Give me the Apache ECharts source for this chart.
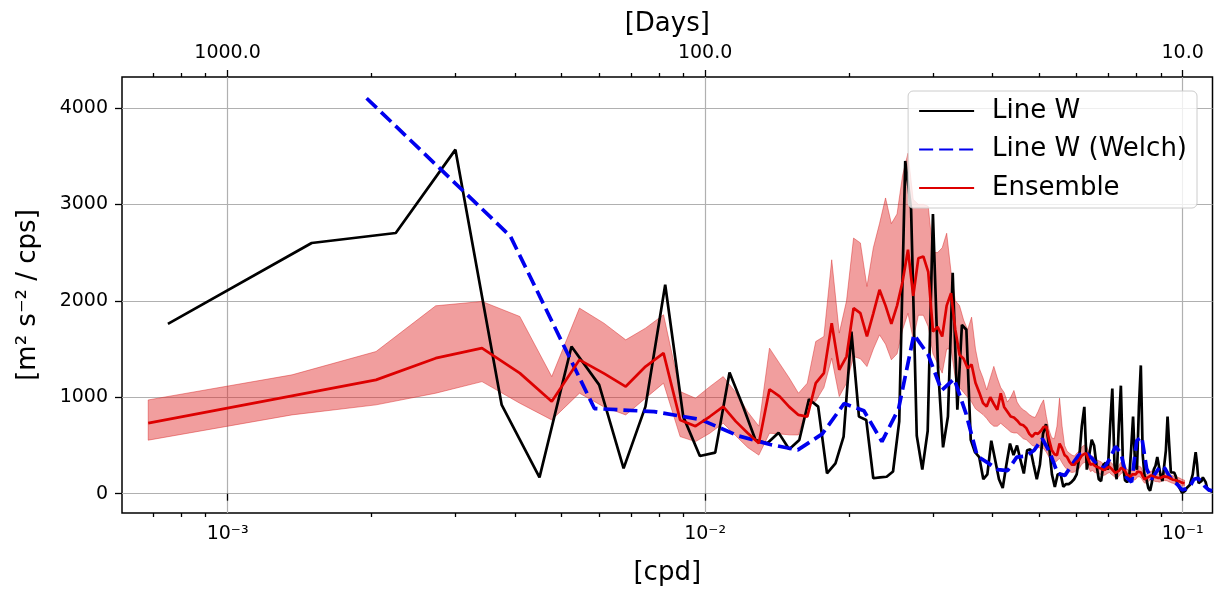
<!DOCTYPE html>
<html>
<head>
<meta charset="utf-8">
<script src="https://cdn.jsdelivr.net/npm/echarts@6.0.0/dist/echarts.min.js"></script>
<style>
  html, body { margin: 0; padding: 0; background: #fff; }
  #chart { width: 1217px; height: 592px; }
</style>
</head>
<body>
<div id="chart"></div>
<script>
// frequency resolution of each spectrum [cpd]
const lineWStep = 0.00075;
const welchStep = 0.001955;
const ensStep = 0.000682;

// Line W periodogram [m2 s-2 / cps]
const lineW = [
  1761, 2599, 2703, 3567, 920, 170, 1526, 1128, 263, 903,
  2166, 799, 391, 426, 1256, 910, 557, 523, 633, 460,
  557, 980, 903, 211, 315, 592, 1681, 799, 765, 160,
  170, 176, 230, 750, 3450, 2950, 600, 250, 650, 2900,
  1300, 480, 800, 2290, 870, 1750, 1700, 560, 430, 380,
  150, 200, 550, 350, 150, 60, 300, 520, 400, 500,
  350, 210, 450, 460, 300, 150, 300, 620, 720, 500,
  200, 70, 200, 210, 73, 100, 100, 120, 150, 200,
  380, 700, 900, 250, 400, 560, 500, 300, 150, 130,
  300, 320, 250, 700, 1090, 300, 150, 700, 1120, 300,
  140, 120, 150, 450, 800, 300, 250, 900, 1330, 400,
  180, 150, 60, 30, 120, 250, 290, 380, 400, 180,
  130, 150, 450, 800, 500, 220, 200, 220, 180, 100,
  70, 40, 10, 5, 30, 60, 80, 90, 110, 200,
  320, 430, 300, 110, 100, 130, 170, 170, 120, 60,
  40, 30, 25, 20
];

// Line W, Welch estimate
const lineWWelch = [
  4100, 2670, 883, 851, 770, 600, 510, 454, 620, 935,
  860, 540, 880, 1650, 1440, 1070, 1190, 830, 390, 320,
  250, 240, 380, 390, 450, 570, 420, 210, 190, 300,
  400, 430, 370, 290, 265, 360, 490, 420, 170, 120,
  550, 590, 260, 150, 220, 290, 260, 180, 130, 90,
  40, 50, 73, 150, 160, 130, 73, 40, 30
];

// Ensemble mean and its spread
const ensMean = [
  731, 1014, 1180, 1405, 1509, 1250, 955, 1388, 1247, 1111,
  1318, 1457, 765, 700, 800, 903, 750, 630, 523, 1083,
  1010, 900, 817, 799, 1146, 1250, 1768, 1284, 1422, 1924,
  1872, 1630, 1870, 2114, 1950, 1760, 1950, 2200, 2529, 2050,
  2440, 2460, 2300, 1680, 1730, 1630, 1950, 2080, 1700, 1440,
  1400, 1300, 1340, 1150, 1050, 940, 903, 1000, 930, 870,
  1040, 900, 850, 800, 790, 760, 720, 710, 680, 620,
  590, 630, 620, 650, 690, 695, 560, 454, 410, 400,
  520, 470, 400, 380, 330, 300, 300, 330, 350, 390,
  410, 420, 360, 300, 310, 290, 280, 270, 260, 246,
  250, 270, 280, 260, 240, 215, 212, 240, 270, 280,
  240, 200, 190, 176, 200, 190, 200, 230, 230, 220,
  180, 150, 150, 170, 180, 190, 190, 175, 170, 165,
  160, 165, 175, 180, 175, 175, 165, 160, 150, 145,
  140, 140, 135, 130, 125, 115, 110, 108
];
const ensUpper = [
  972, 1232, 1474, 1948, 1993, 1837, 1214, 1924, 1768, 1595,
  1716, 1855, 1059, 990, 1110, 1214, 1050, 850, 700, 1509,
  1350, 1200, 1042, 1146, 1578, 1630, 2425, 1665, 2000, 2650,
  2600, 2148, 2550, 2800, 3066, 2800, 2900, 3300, 3530, 3050,
  3000, 3000, 2980, 2500, 2500, 2550, 2700, 2300, 2000, 1950,
  1800, 1700, 1830, 1500, 1300, 1200, 1076, 1200, 1320, 1200,
  1100, 1050, 950, 1000, 1070, 950, 900, 870, 850, 820,
  800, 790, 850, 920, 973, 800, 661, 580, 570, 700,
  990, 700, 500, 440, 419, 400, 390, 420, 440, 480,
  500, 510, 450, 380, 390, 370, 350, 340, 330, 310,
  310, 330, 340, 320, 300, 270, 265, 300, 330, 340,
  300, 255, 245, 225, 250, 240, 250, 285, 285, 275,
  230, 195, 195, 215, 225, 235, 235, 220, 215, 205,
  200, 205, 215, 220, 215, 215, 205, 200, 190, 185,
  180, 178, 172, 165, 160, 150, 145, 140
];
const ensLower = [
  555, 817, 921, 1042, 1162, 938, 765, 1042, 900, 817,
  990, 1146, 592, 540, 627, 731, 600, 480, 400, 627,
  620, 610, 609, 900, 960, 1100, 1405, 1007, 1146, 1422,
  1400, 1318, 1500, 1647, 1550, 1388, 1450, 1700, 1870, 1600,
  1850, 1850, 1733, 1450, 1350, 1250, 1500, 1500, 1200, 1100,
  1050, 1000, 950, 880, 850, 820, 780, 730, 700, 700,
  730, 700, 670, 640, 630, 630, 600, 570, 560, 530,
  500, 490, 480, 470, 470, 430, 380, 330, 320, 340,
  367, 320, 280, 250, 228, 220, 225, 245, 260, 300,
  320, 330, 280, 230, 240, 220, 215, 205, 200, 190,
  195, 210, 220, 200, 185, 165, 160, 185, 210, 220,
  185, 150, 140, 130, 150, 140, 150, 175, 175, 165,
  135, 110, 110, 125, 135, 145, 145, 130, 125, 125,
  120, 125, 135, 140, 135, 135, 125, 120, 112, 108,
  103, 103, 100, 96, 92, 84, 80, 78
];

// axis ticks
const xMin = 0.000601;
const xMax = 0.1155;
const majorTicks = [0.001, 0.01, 0.1];
const minorTicks = [
  0.0007, 0.0008, 0.0009,
  0.002, 0.003, 0.004, 0.005, 0.006, 0.007, 0.008, 0.009,
  0.02, 0.03, 0.04, 0.05, 0.06, 0.07, 0.08, 0.09
];
const yTicks = [0, 1000, 2000, 3000, 4000];

const FONT = 'DejaVu Sans';

function pairs(values, step) {
  return values.map((v, i) => [(i + 1) * step, v]);
}

function supNum(n) {
  const map = { '-': '\u207b', '0': '\u2070', '1': '\u00b9', '2': '\u00b2', '3': '\u00b3',
    '4': '\u2074', '5': '\u2075', '6': '\u2076', '7': '\u2077', '8': '\u2078', '9': '\u2079' };
  return String(n).split('').map(c => map[c]).join('');
}

function xAxisDef(position, ticks, major, extra) {
  return Object.assign({
    type: 'log',
    position: position,
    min: xMin,
    max: xMax,
    axisLine: { show: false },
    axisTick: {
      show: true,
      customValues: ticks,
      length: major ? 7 : 4,
      lineStyle: { color: '#000', width: 1.3 }
    },
    axisLabel: { show: false },
    splitLine: { show: false },
    minorTick: { show: false },
    minorSplitLine: { show: false }
  }, extra || {});
}

const chart = echarts.init(document.getElementById('chart'));

const bandEdge = 'rgba(215, 35, 35, 0.45)';
const bandFill = 'rgba(225, 40, 40, 0.45)';

// spread band drawn as one polygon: upper edge forward, lower edge back
function renderBand(params, api) {
  if (params.dataIndex !== 0) return;
  const pts = [];
  for (let i = 0; i < ensUpper.length; i++) {
    pts.push(api.coord([(i + 1) * ensStep, ensUpper[i]]));
  }
  for (let i = ensLower.length - 1; i >= 0; i--) {
    pts.push(api.coord([(i + 1) * ensStep, ensLower[i]]));
  }
  return {
    type: 'polygon',
    shape: { points: pts },
    style: { fill: bandFill, stroke: bandEdge, lineWidth: 1 }
  };
}

const option = {
  animation: false,
  backgroundColor: '#fff',
  grid: {
    left: 122,
    right: 4.5,
    top: 77,
    bottom: 79,
    show: true,
    borderColor: '#000',
    borderWidth: 1.5,
    backgroundColor: 'transparent',
    outerBoundsMode: 'none'
  },
  legend: {
    data: ['Line W', 'Line W (Welch)', 'Ensemble'],
    orient: 'vertical',
    right: 20,
    top: 91,
    itemWidth: 55,
    itemHeight: 14,
    itemGap: 10.5,
    padding: [6, 10, 6, 10],
    backgroundColor: 'rgba(255,255,255,0.8)',
    borderColor: '#cccccc',
    borderWidth: 1,
    borderRadius: 5,
    itemStyle: { opacity: 0 },
    textStyle: {
      fontFamily: FONT,
      fontSize: 26,
      color: '#000',
      lineHeight: 28,
      padding: [0, 0, 0, 13]
    }
  },
  xAxis: [
    xAxisDef('bottom', majorTicks, true, {
      axisLabel: {
        show: true,
        customValues: majorTicks,
        fontFamily: FONT,
        fontSize: 19,
        color: '#000',
        margin: 12,
        formatter: v => '10' + supNum(Math.round(Math.log10(v)))
      },
      splitLine: { show: true, lineStyle: { color: '#b0b0b0', width: 1.2 } },
      name: '[cpd]',
      nameLocation: 'middle',
      nameGap: 47,
      nameTextStyle: { fontFamily: FONT, fontSize: 26, color: '#000' }
    }),
    xAxisDef('bottom', minorTicks, false),
    xAxisDef('top', majorTicks, true, {
      axisLabel: {
        show: true,
        customValues: majorTicks,
        fontFamily: FONT,
        fontSize: 19,
        color: '#000',
        margin: 14,
        formatter: v => (1 / v).toFixed(1)
      },
      name: '[Days]',
      nameLocation: 'middle',
      nameGap: 40,
      nameTextStyle: { fontFamily: FONT, fontSize: 26, color: '#000' }
    }),
    xAxisDef('top', minorTicks, false)
  ],
  yAxis: {
    type: 'value',
    min: -200,
    max: 4320,
    axisLine: { show: false },
    axisTick: {
      show: true,
      customValues: yTicks,
      length: 7,
      lineStyle: { color: '#000', width: 1.3 }
    },
    axisLabel: {
      customValues: yTicks,
      fontFamily: FONT,
      fontSize: 19,
      color: '#000',
      margin: 14,
      formatter: v => String(v)
    },
    splitLine: { show: true, lineStyle: { color: '#b0b0b0', width: 1.2 } },
    name: '[m\u00b2 s\u207b\u00b2 / cps]',
    nameLocation: 'middle',
    nameGap: 81,
    nameRotate: 90,
    nameTextStyle: { fontFamily: FONT, fontSize: 26, color: '#000' }
  },
  series: [
    {
      name: 'band',
      type: 'custom',
      xAxisIndex: 0,
      silent: true,
      renderItem: renderBand,
      data: pairs(ensUpper, ensStep),
      encode: { x: 0, y: 1 }
    },
    {
      name: 'Line W',
      type: 'line',
      xAxisIndex: 0,
      symbol: 'none',
      data: pairs(lineW, lineWStep),
      itemStyle: { color: '#000' },
      lineStyle: { color: '#000', width: 2.7 }
    },
    {
      name: 'Line W (Welch)',
      type: 'line',
      xAxisIndex: 0,
      symbol: 'none',
      data: pairs(lineWWelch, welchStep),
      itemStyle: { color: '#0000ee' },
      lineStyle: { color: '#0000ee', width: 3.7, type: [14, 6] }
    },
    {
      name: 'Ensemble',
      type: 'line',
      xAxisIndex: 0,
      symbol: 'none',
      data: pairs(ensMean, ensStep),
      itemStyle: { color: '#dd0000' },
      lineStyle: { color: '#dd0000', width: 2.7 }
    }
  ]
};

chart.setOption(option);
</script>
</body>
</html>
